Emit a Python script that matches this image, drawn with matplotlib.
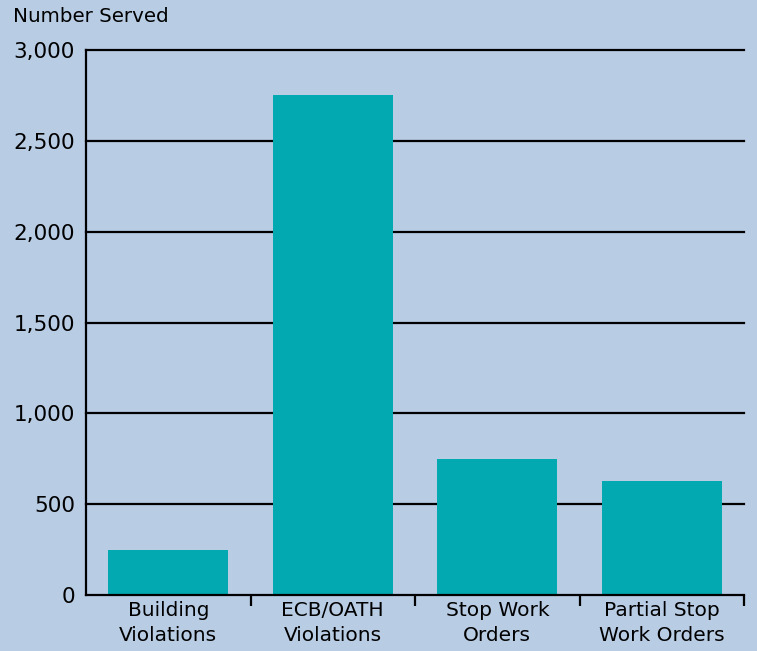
import matplotlib.pyplot as plt
import numpy as np

# data
categories = ['Building\nViolations', 'ECB/OATH\nViolations', 'Stop Work\nOrders', 'Partial Stop\nWork Orders']
served = [250, 2755, 750, 625]
y_ticks = [0, 500, 1000, 1500, 2000, 2500, 3000]

bg = '#b8cce4'
bar_color = '#02a9b1'

fig = plt.figure(figsize=(7.57, 6.51), dpi=100, facecolor=bg)
ax = fig.add_axes([0.1136, 0.086, 0.8694, 0.837])
ax.set_facecolor(bg)

x = np.arange(len(categories))
ax.bar(x, served, width=0.73, color=bar_color, zorder=3)

# black gridlines behind bars
for t in y_ticks[1:]:
    ax.axhline(t, color='black', lw=1.6, zorder=1, clip_on=False)

ax.set_xlim(-0.5, 3.5)
ax.set_ylim(0, 3000)

for s in ['top', 'right']:
    ax.spines[s].set_visible(False)
for s in ['left', 'bottom']:
    ax.spines[s].set_linewidth(1.6)
    ax.spines[s].set_zorder(4)

ax.set_yticks(y_ticks)
ax.set_yticklabels([f'{v:,}' for v in y_ticks])
ax.tick_params(axis='y', length=0, pad=8, labelsize=15.5)

ax.set_xticks(x)
ax.set_xticklabels(categories, fontsize=14.5, linespacing=1.4)
ax.tick_params(axis='x', which='major', length=0, pad=4.5)
ax.set_xticks(list(x + 0.5), minor=True)
ax.tick_params(axis='x', which='minor', length=8, width=1.6, direction='out')

fig.text(13 / 757, 1 - 17 / 651, 'Number Served', fontsize=14.3, ha='left', va='center')

plt.savefig('out.png', dpi=100, facecolor=bg)
